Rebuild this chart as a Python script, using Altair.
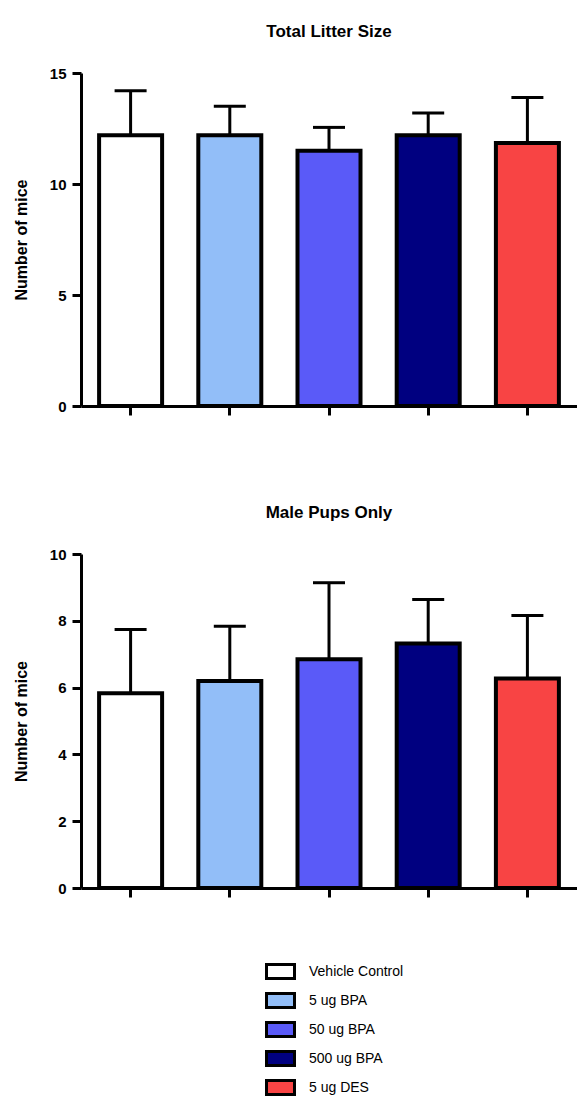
import altair as alt
import pandas as pd

groups = ["Vehicle Control", "5 ug BPA", "50 ug BPA", "500 ug BPA", "5 ug DES"]
colors = ["#FFFFFF", "#92BEF8", "#5A5AF8", "#000080", "#F84444"]

litter_mean = [12.2, 12.2, 11.5, 12.2, 11.85]
litter_err = [2.0, 1.3, 1.05, 1.0, 2.05]

male_mean = [5.83, 6.2, 6.85, 7.32, 6.27]
male_err = [1.91, 1.64, 2.29, 1.32, 1.89]

y_title = "Number of mice"
FONT = "Liberation Sans"


def panel(title, mean, err, ymax, ystep, height, show_legend):
    df = pd.DataFrame({
        "group": groups,
        "mean": mean,
        "upper": [m + e for m, e in zip(mean, err)],
    })
    base = alt.Chart(df)
    x = alt.X(
        "group:N", sort=groups,
        scale=alt.Scale(paddingInner=0, paddingOuter=0),
        axis=alt.Axis(labels=False, title=None, ticks=True, tickSize=9,
                      tickWidth=3, tickColor="black", domainColor="black",
                      domainWidth=3, grid=False),
    )
    y = alt.Y(
        "mean:Q",
        scale=alt.Scale(domain=[0, ymax], nice=False, zero=True),
        axis=alt.Axis(title=y_title, values=list(range(0, ymax + 1, ystep)),
                      grid=False),
    )
    legend = alt.Legend(
        title=None, orient="none", legendX=191, legendY=890,
        direction="vertical",
        symbolType="M-2,-1H2V1H-2Z", symbolSize=196,
        symbolStrokeColor="black", symbolStrokeWidth=3,
        labelFont=FONT, labelFontSize=14, labelColor="black",
        labelOffset=20, rowPadding=2,
    ) if show_legend else None
    color = alt.Color("group:N", sort=groups,
                      scale=alt.Scale(domain=groups, range=colors),
                      legend=legend)
    bars = base.mark_bar(size=63, stroke="black", strokeWidth=4,
                         opacity=1).encode(x=x, y=y, color=color)
    rule = base.mark_rule(strokeWidth=3, color="black").encode(
        x=x, y="mean:Q", y2="upper:Q")
    cap = base.mark_tick(size=32, thickness=3, color="black",
                         opacity=1).encode(x=x, y="upper:Q")
    return alt.layer(rule, cap, bars).properties(
        width=496, height=height,
        title=alt.TitleParams(title, font=FONT, fontSize=17,
                              fontWeight="bold", color="black",
                              frame="group", baseline="alphabetic",
                              offset=12, anchor="middle"),
    )


top = panel("Total Litter Size", litter_mean, litter_err, 15, 5, 333, True)
bottom = panel("Male Pups Only", male_mean, male_err, 10, 2, 334, True)

chart = alt.vconcat(top, bottom, spacing=87).properties(
    padding={"left": 13, "top": 23, "right": 0, "bottom": 2},
).configure_view(stroke=None).configure_axis(
    labelFont=FONT, labelFontSize=15, labelFontWeight="bold",
    labelColor="black", labelPadding=6,
    tickSize=9, tickWidth=3, tickColor="black",
    domainColor="black", domainWidth=3,
    titleFont=FONT, titleFontSize=16, titleFontWeight="bold",
    titleColor="black", titlePadding=20,
).configure_legend(symbolOpacity=1)

chart.save("out.html", embed_options={"renderer": "svg", "actions": False})
